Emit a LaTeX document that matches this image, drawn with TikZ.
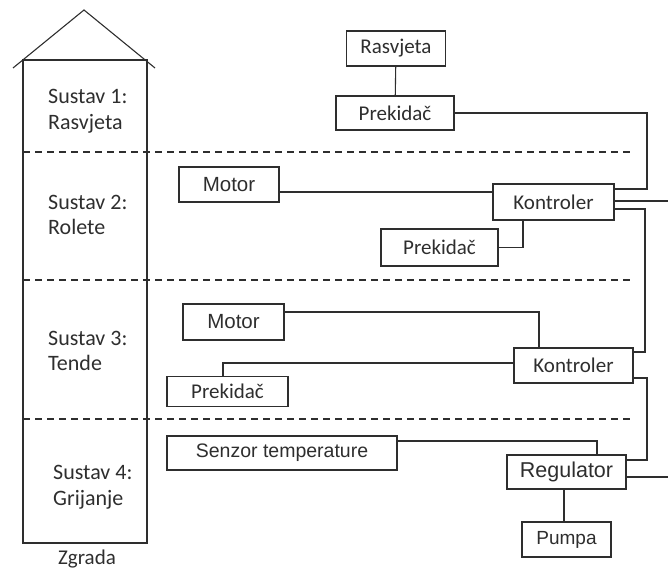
\documentclass[tikz,border=0pt]{standalone}
\usepackage{fontspec}
\setmainfont{Carlito}
\newfontfamily\arialf{Liberation Sans}
\definecolor{ink}{HTML}{2E2E2E}
\begin{document}
\begin{tikzpicture}[x=1pt,y=-1pt,
  ln/.style={draw=ink,line width=1.1pt},
  dl/.style={draw=ink,line width=1.1pt,dash pattern=on 7pt off 5pt},
  box/.style={draw=ink,line width=1.1pt,text=ink,inner sep=0pt,font=\fontsize{21}{24}\selectfont},
  abox/.style={box,font=\arialf\fontsize{20.5}{23}\selectfont},
  lbl/.style={text=ink,anchor=west,align=left,inner sep=0pt,font=\fontsize{22}{25.5}\selectfont}]
\useasboundingbox (0,0) rectangle (668,569);
% building
\draw[ln] (23,60) rectangle (147,543);
\draw[ln] (13,68) -- (84,10) -- (155,68);
\draw[dl] (23,152) -- (630,152);
\draw[dl] (23,280) -- (630,280);
\draw[dl] (23,419) -- (630,419);
\node[lbl] (s1) at (48,111) {Sustav 1:\\Rasvjeta};
\node[lbl] (s2) at (48,215) {Sustav 2:\\Rolete};
\node[lbl] (s3) at (48,351) {Sustav 3:\\Tende};
\node[lbl] (s4) at (53,487) {Sustav 4:\\Grijanje};
\node[text=ink,inner sep=0pt,font=\fontsize{21}{24}\selectfont] (zg) at (87,559) {Zgrada};
% boxes
\node[box,minimum width=99pt,minimum height=35pt] (ras) at (396,48.5) {Rasvjeta};
\node[box,minimum width=118pt,minimum height=34pt] (pre1) at (395,113) {Prekidač};
\node[box,minimum width=121pt,minimum height=36pt] (kon2) at (553.5,202) {Kontroler};
\node[abox,minimum width=100pt,minimum height=35pt] (mot2) at (229,184.5) {Motor};
\node[box,minimum width=117pt,minimum height=37pt] (pre2) at (439.5,247.5) {Prekidač};
\node[abox,minimum width=101pt,minimum height=36pt] (mot3) at (233.5,322) {Motor};
\node[box,minimum width=119pt,minimum height=35pt] (kon3) at (573.5,365.5) {Kontroler};
\node[box,minimum width=121pt,minimum height=30pt] (pre3) at (227.5,391.5) {Prekidač};
\node[abox,minimum width=230pt,minimum height=34pt,font=\arialf\fontsize{19.5}{23}\selectfont] (sen) at (282,453) {Senzor temperature};
\node[abox,minimum width=119pt,minimum height=34pt,font=\arialf\fontsize{21.5}{24}\selectfont] (reg) at (566.5,472) {Regulator};
\node[abox,minimum width=89pt,minimum height=35pt,font=\arialf\fontsize{19}{23}\selectfont] (pum) at (566.5,539.5) {Pumpa};
% free ends
\coordinate (o1) at (668,201);
\coordinate (o2) at (668,477);
% connectors
\draw[ln] (ras) -- (pre1);
\draw[ln] (pre1.east) -| (647,189) -- (kon2.east |- 0,189);
\draw[ln] (kon2.east |- o1) -- (o1);
\draw[ln] (kon2.east |- 0,209) -| (645,352) -- (kon3.east |- 0,352);
\draw[ln] (mot2.east |- 0,192) -- (kon2.west |- 0,192);
\draw[ln] (pre2.east) -| (kon2.south -| 523,0);
\draw[ln] (mot3.east |- 0,312) -| (kon3.north -| 539,0);
\draw[ln] (kon3.west |- 0,363) -| (pre3.north -| 223,0);
\draw[ln] (kon3.east |- 0,378) -| (647,460) -- (reg.east |- 0,460);
\draw[ln] (reg.east |- o2) -- (o2);
\draw[ln] (sen.east |- 0,441) -| (reg.north -| 597,0);
\draw[ln] (reg.south -| 564,0) -- (pum.north -| 564,0);
\end{tikzpicture}
\end{document}
